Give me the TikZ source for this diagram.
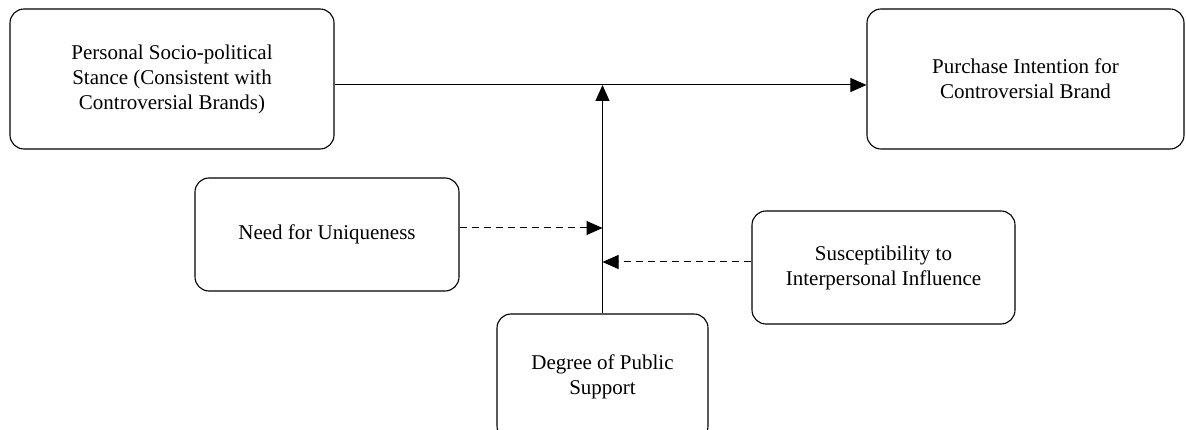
\documentclass[tikz,border=0pt]{standalone}
\usepackage{fontspec}
\setmainfont{Liberation Serif}
\usetikzlibrary{arrows.meta}
\begin{document}
\begin{tikzpicture}[x=1pt,y=-1pt,
  box/.style={draw=black, line width=1.1pt, rounded corners=14pt, align=center,
    inner sep=0pt, font=\fontsize{21}{25}\selectfont},
  conn/.style={line width=1pt, -{Triangle[length=16pt,width=14pt]}},
  dconn/.style={conn, dash pattern=on 7pt off 5pt}]
\useasboundingbox (0,0) rectangle (1186,430);
\node[box, minimum width=324pt, minimum height=140pt] (A) at (172,79)
  {Personal Socio-political\\Stance (Consistent with\\Controversial Brands)};
\node[box, minimum width=317pt, minimum height=140pt] (B) at (1025.5,79)
  {Purchase Intention for\\Controversial Brand};
\node[box, minimum width=264pt, minimum height=113pt] (C) at (327,234.5)
  {Need for Uniqueness};
\node[box, minimum width=263pt, minimum height=113pt] (D) at (883.5,267.5)
  {Susceptibility to\\Interpersonal Influence};
\node[box, minimum width=211pt, minimum height=126pt] (E) at (602.5,377)
  {Degree of Public\\Support};
\coordinate (j) at (602.5,85);
\coordinate (c1) at (602.5,228);
\coordinate (c2) at (602.5,262);
\draw[conn] (A.east |- j) -- (B.west |- j);
\draw[conn] (E.north) -- (j);
\draw[dconn] (C.east |- c1) -- (c1);
\draw[dconn] (D.west |- c2) -- (c2);
\end{tikzpicture}
\end{document}
